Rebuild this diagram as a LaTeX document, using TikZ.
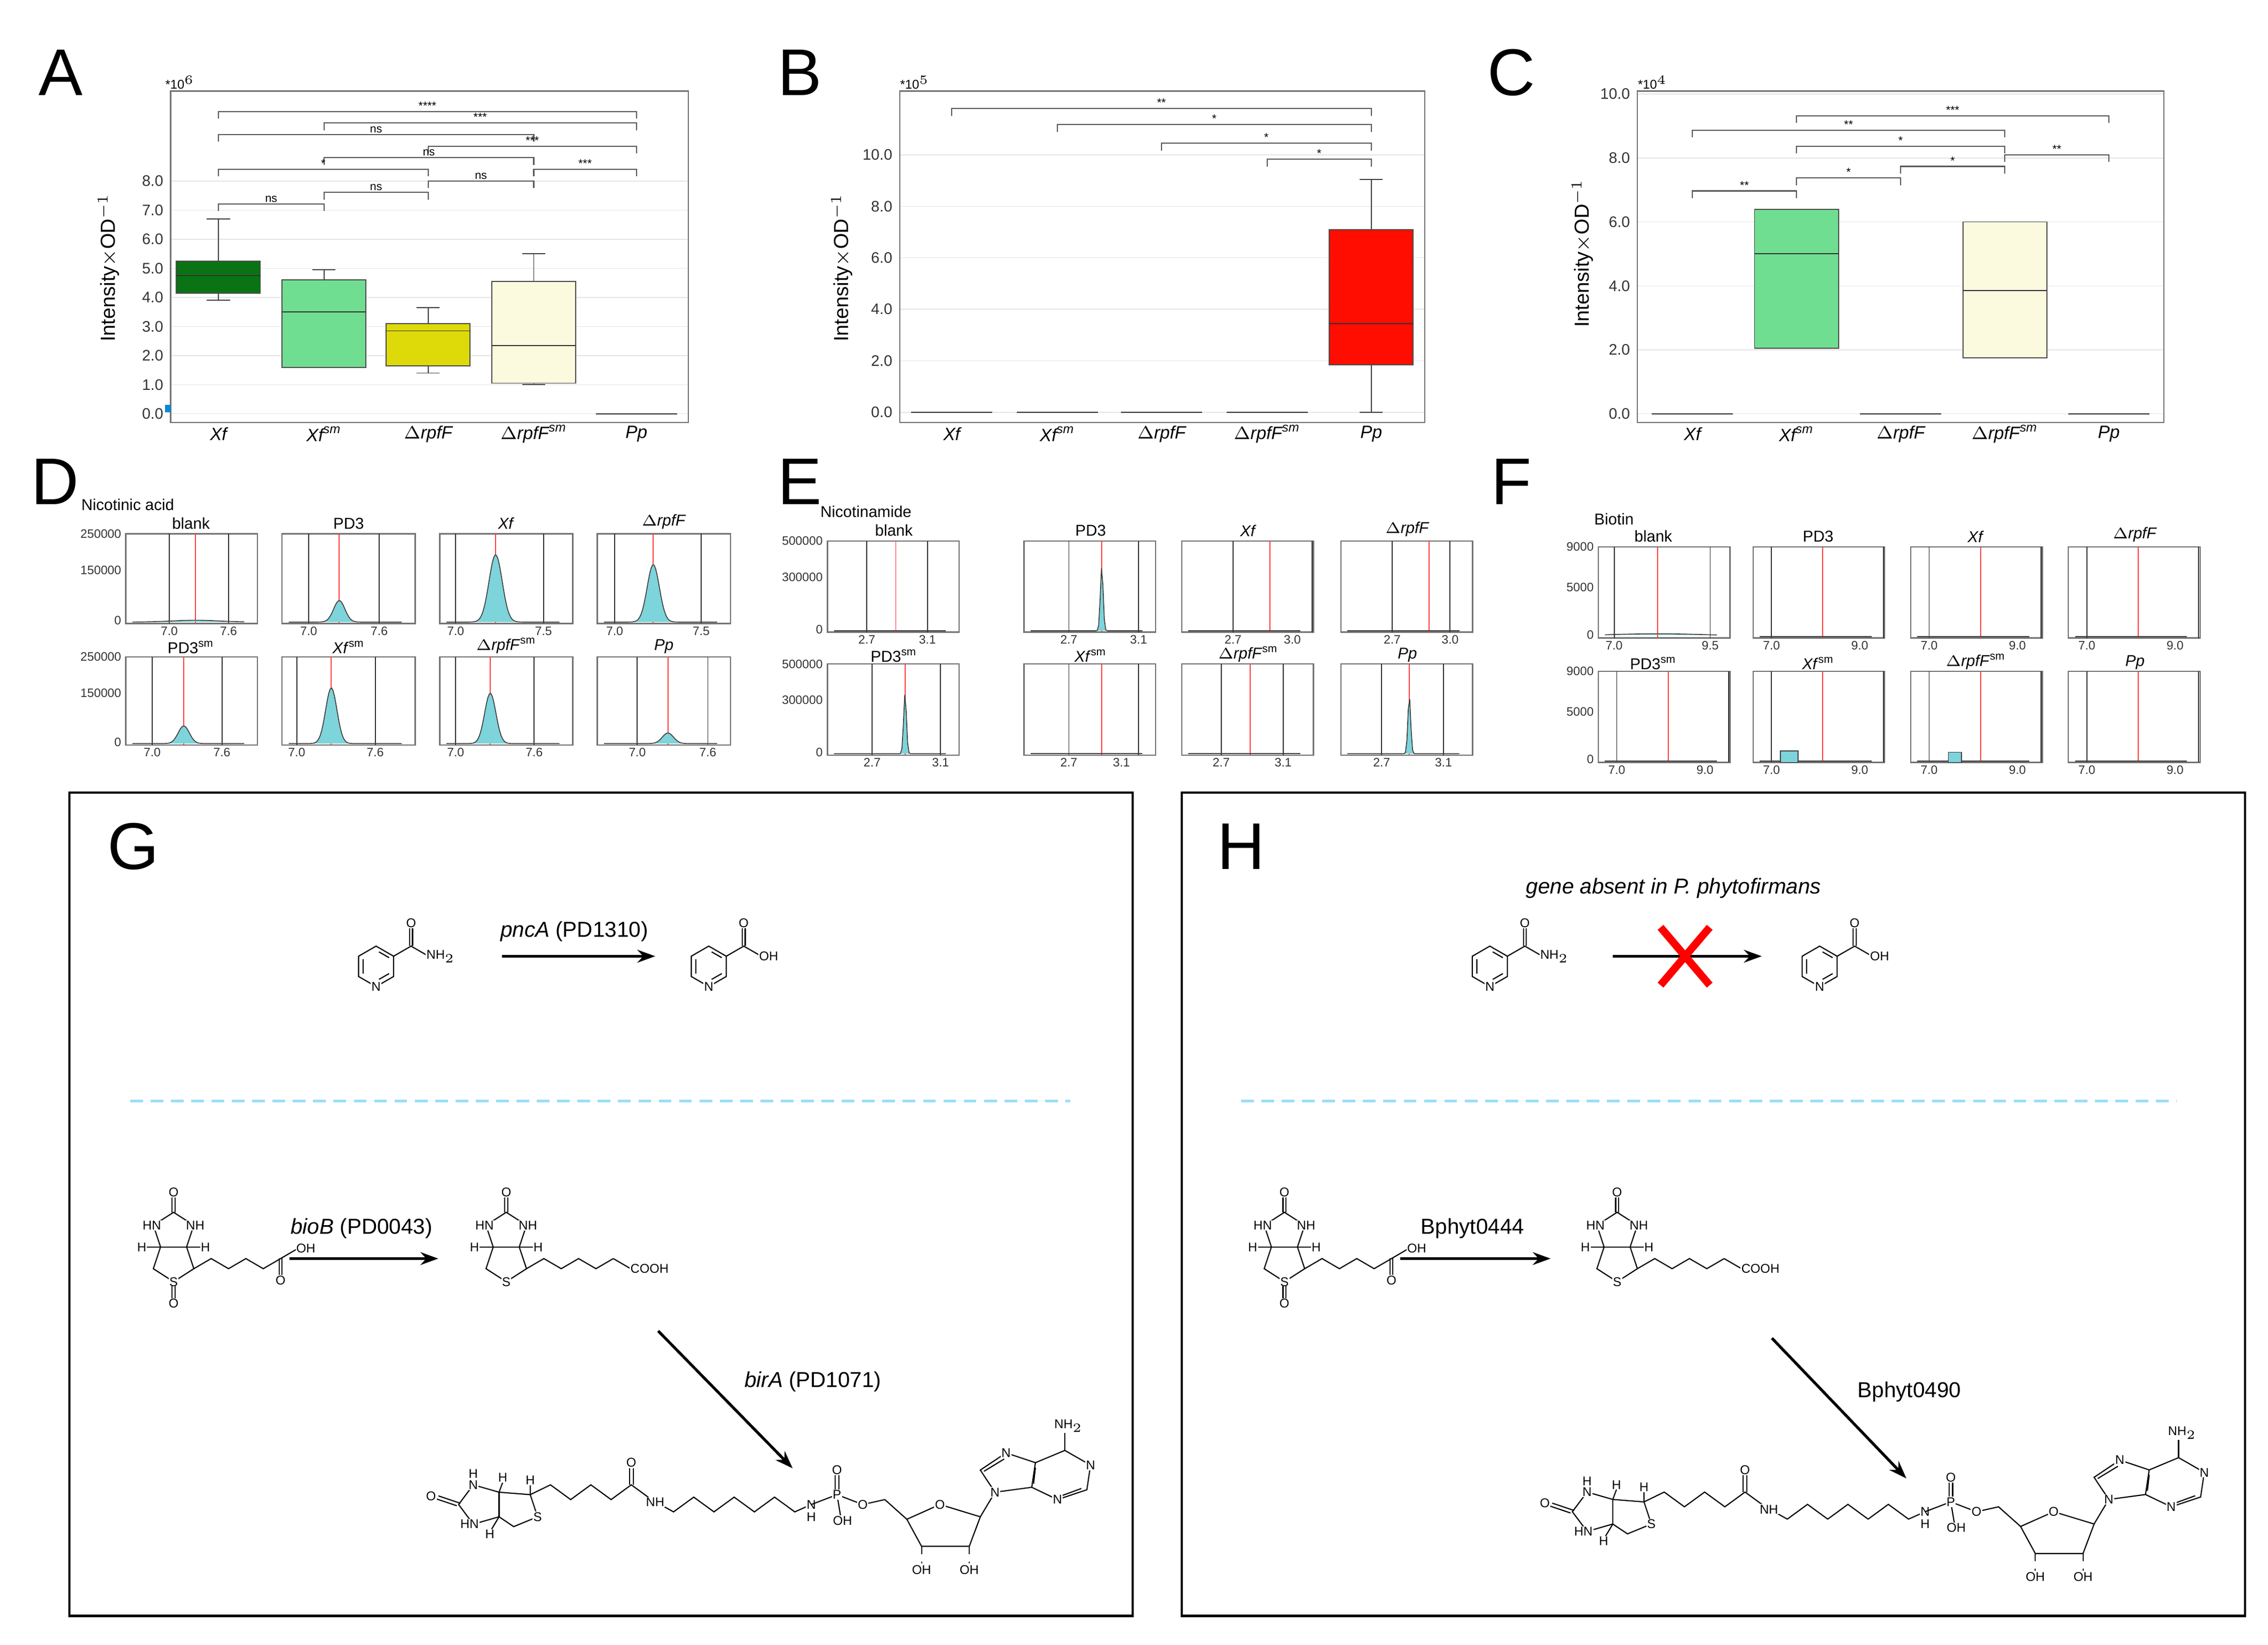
\documentclass[tikz,border=0pt]{standalone}
\usepackage{fontspec}
\setmainfont{Liberation Sans}
\usetikzlibrary{arrows.meta}
\definecolor{xsm}{RGB}{112,222,145}
\definecolor{pk}{RGB}{125,212,218}
\definecolor{dg}{RGB}{10,115,20}
\definecolor{yl}{RGB}{222,218,10}
\definecolor{ly}{RGB}{252,250,222}
\newcommand\fs[1]{\fontsize{#1}{#1}\selectfont}
\tikzset{
 frame/.style={draw=black!55,line width=0.5pt},
 grid/.style={draw=black!10,line width=0.3pt},
 tick/.style={font=\fs{6},anchor=east,text=black!80,inner sep=1pt},
 cat/.style={font=\fs{7}\itshape,inner sep=1pt},
 sig/.style={font=\fs{4.5},inner sep=0.5pt,anchor=south},
 brk/.style={draw=black!65,line width=0.45pt},
 ttl/.style={font=\fs{26},inner sep=0pt},
 subt/.style={font=\fs{6.2},inner sep=0.5pt,anchor=south},
 stk/.style={font=\fs{4.8},text=black!80,inner sep=0.5pt},
 rxn/.style={-{Stealth[length=7pt,width=5pt]},line width=1.1pt},
 bond/.style={line width=0.45pt},
 atom/.style={font=\fs{5},inner sep=0.3pt,fill=white},
 lab/.style={font=\fs{8.5},inner sep=1pt},
}
\newcommand\bxp[9]{%
 \draw[black!75] (#1,{#2-#3*#4})--(#1,{#2-#3*#5});
 \draw[black!75] (#1,{#2-#3*#7})--(#1,{#2-#3*#8});
 \draw[black!75] ({#1-8},{#2-#3*#4})--({#1+8},{#2-#3*#4});
 \draw[black!75] ({#1-8},{#2-#3*#8})--({#1+8},{#2-#3*#8});
 \filldraw[fill=#9,draw=black!70,line width=0.4pt] ({#1-29},{#2-#3*#5}) rectangle ({#1+29},{#2-#3*#7});
 \draw[black!80] ({#1-29},{#2-#3*#6})--({#1+29},{#2-#3*#6});}
\newcommand\brkt[4]{\draw[brk] (#1,{#3+5})--(#1,#3)--(#2,#3)--(#2,{#3+5}); \node[sig] at ({(#1+#2)/2},#3) {#4};}
\newcommand\spl[9]{%
 \draw[frame] (#1,#2) rectangle ({#1+#3},{#2+#4});
 \draw[black!80,line width=0.4pt] ({#1+#5*#3},#2)--({#1+#5*#3},{#2+#4});
 \draw[black!80,line width=0.4pt] ({#1+#6*#3},#2)--({#1+#6*#3},{#2+#4});
 \draw[red!75,line width=0.4pt] ({#1+#7*#3},#2)--({#1+#7*#3},{#2+#4});
 \filldraw[fill=pk,draw=black!75,line width=0.35pt] plot[domain=0.05:0.9,samples=80] ({#1+\x*#3},{#2+#4-1-#8*#4*exp(-((\x-#7)/#9)^2)});}
\newcommand\sptk[7]{\node[stk,anchor=north] at ({#1+#4*#3},{#2+1}) {#6}; \node[stk,anchor=north] at ({#1+#5*#3},{#2+1}) {#7};}
\newcommand\Xsm{\textit{Xf}\textsuperscript{sm}}
\newcommand\Rf{$\Delta$\textit{rpfF}}
\newcommand\Rsm{$\Delta$\textit{rpfF}\textsuperscript{sm}}
\newcommand\PDsm{PD3\textsuperscript{sm}}
\newcommand\pyr[1]{%
 \draw[bond] (0,-14)--(12.1,-7)--(12.1,7)--(0,14)--(-12.1,7)--(-12.1,-7)--cycle;
 \draw[bond] (2,-10)--(9,-6) (9,5)--(2,9) (-9,-5)--(-9,5);
 \draw[bond] (12.1,-7)--(24.2,-14)--(36.3,-7);
 \draw[bond] (23.2,-14)--(23.2,-27) (25.2,-14)--(25.2,-27);
 \node[atom] at (0,14) {N};
 \node[atom] at (24.2,-30) {O};
 \node[atom,anchor=west] at (34,-7) {#1};}
\newcommand\biot[1]{%
 \draw[bond] (-9,0)--(9,0);
 \draw[bond] (-9,0)--(-14,-15)--(0,-24)--(14,-15)--(9,0);
 \draw[bond] (-9,0)--(-14,15)--(0,24)--(14,15)--(9,0);
 \draw[bond] (-1,-24)--(-1,-35) (1,-24)--(1,-35);
 \draw[bond] (-9,0)--(-20,0) (9,0)--(20,0);
 \node[atom] at (0,-38) {O};
 \node[atom] at (-15,-15) {HN};
 \node[atom] at (15,-15) {NH};
 \node[atom] at (-22,0) {H};
 \node[atom] at (22,0) {H};
 \node[atom] at (0,24) {S};
 \draw[bond] (14,15)--(26,8)--(38,15)--(50,8)--(62,15)--(74,8);
 \ifnum#1=1
  \draw[bond] (-1,27)--(-1,36) (1,27)--(1,36);
  \node[atom] at (0,39) {O};
  \draw[bond] (74,8)--(86,1); \draw[bond] (73,8)--(73,20) (75,8)--(75,20);
  \node[atom] at (74,23) {O};
  \node[atom,anchor=west] at (84,1) {OH};
 \else
  \draw[bond] (74,8)--(86,15);
  \node[atom,anchor=west] at (85,15) {COOH};
 \fi}
\newcommand\conj{%
 \draw[bond] (0,-10)--(0,10);
 \draw[bond] (0,-10)--(-14,-16)--(-22,0)--(-14,16)--(0,10);
 \draw[bond] (-21,-1)--(-33,-7) (-23,1)--(-35,-5);
 \node[atom] at (-37,-7) {O};
 \node[atom] at (-14,-16) {N}; \node[atom] at (-14,-25) {H};
 \node[atom] at (-16,16) {HN};
 \draw[bond] (0,-10)--(17,-8)--(21,10)--(8,18)--(0,10);
 \node[atom] at (21,10) {S};
 \draw[bond] (0,-10)--(2,-18) (0,10)--(-4,20) (17,-8)--(17,-16);
 \node[atom] at (2,-22) {H}; \node[atom] at (-5,24) {H}; \node[atom] at (17,-20) {H};
 \draw[bond] (17,-8)--(28,-16)--(39,-4)--(50,-16)--(61,-4)--(72,-16)--(83,-4);
 \draw[bond] (71,-16)--(71,-30) (73,-16)--(73,-30);
 \node[atom] at (72,-34) {O};
 \draw[bond] (83,-4)--(95,6)--(106,-6)--(117,6)--(128,-6)--(139,6)--(150,-6)--(161,6)--(170,0);
 \node[atom] at (85,-2) {NH};
 \node[atom] at (170,0) {N}; \node[atom] at (170,10) {H};
 \draw[bond] (170,0)--(184,-8)--(198,0)--(210,-4)--(222,12);
 \draw[bond] (183,-8)--(183,-24) (185,-8)--(185,-24);
 \draw[bond] (184,-8)--(186,10);
 \node[atom] at (184,-8) {P}; \node[atom] at (184,-28) {O};
 \node[atom] at (187,13) {OH}; \node[atom] at (198,0) {O};
 \draw[bond] (222,12)--(240,0)--(262,10)--(256,34)--(230,34)--cycle;
 \node[atom] at (240,0) {O};
 \draw[bond,dashed] (230,34)--(230,48) (256,34)--(256,48);
 \node[atom] at (230,53) {OH}; \node[atom] at (256,53) {OH};
 \draw[bond] (262,10)--(270,-10);
 \draw[bond] (270,-10)--(262,-28)--(276,-42)--(292,-34)--(290,-14)--cycle;
 \draw[bond] (290,-14)--(304,-4)--(320,-12)--(322,-32)--(308,-44)--(292,-34);
 \draw[bond] (264,-27)--(275,-37) (292,-30)--(291,-17) (306,-7)--(317,-13);
 \draw[bond] (308,-44)--(308,-60);
 \node[atom] at (270,-10) {N}; \node[atom] at (276,-42) {N};
 \node[atom] at (304,-4) {N}; \node[atom] at (322,-32) {N};
 \node[atom] at (310,-64) {NH$_2$};}
\begin{document}
\begin{tikzpicture}[x=0.02cm,y=-0.02cm]
\fill[white] (0,0) rectangle (1568,1137);
\useasboundingbox (0,0) rectangle (1568,1137);
% ---------------- A
\node[ttl] (tA) at (42,50) {A};
\foreach \v in {0,...,8} {\draw[grid] (118,{286-20.1*\v})--(476,{286-20.1*\v});
  \node[tick] at (115,{286-20.1*\v}) {\v.0};}
\draw[frame] (118,63) rectangle (476,292);
\node[font=\fs{5},anchor=south west,inner sep=0pt] at (114,62) {*10$^6$};
\node[rotate=90,font=\fs{8}] at (75,185) {Intensity$\times$OD$^{-1}$};
\bxp{151}{286}{20.1}{3.9}{4.15}{4.75}{5.25}{6.7}{dg}
\bxp{224}{286}{20.1}{1.6}{1.6}{3.5}{4.6}{4.95}{xsm}
\bxp{296}{286}{20.1}{1.4}{1.65}{2.85}{3.1}{3.65}{yl}
\bxp{369}{286}{20.1}{1.0}{1.05}{2.35}{4.55}{5.5}{ly}
\draw[black!80] (412,286)--(468,286);
\fill[cyan!70!blue] (114,280) rectangle (118,285);
\foreach \x/\t in {151/\textit{Xf},224/\Xsm,296/\Rf,369/\Rsm,440/\textit{Pp}} \node[cat] at (\x,300) {\t};
\brkt{151}{440}{77}{****}
\brkt{224}{440}{85}{***}
\brkt{151}{369}{93}{ns}
\brkt{296}{440}{101}{***}
\brkt{224}{369}{109}{ns}
\brkt{151}{296}{117}{*}
\brkt{369}{440}{117}{***}
\brkt{296}{369}{125}{ns}
\brkt{224}{296}{133}{ns}
\brkt{151}{224}{141}{ns}
% ---------------- B
\node[ttl] (tB) at (553,50) {B};
\foreach \v in {0,2,4,6,8,10} {\draw[grid] (622,{285-17.8*\v})--(985,{285-17.8*\v});
  \node[tick] at (619,{285-17.8*\v}) {\v.0};}
\draw[frame] (622,63) rectangle (985,292);
\node[font=\fs{5},anchor=south west,inner sep=0pt] at (622,62) {*10$^5$};
\node[rotate=90,font=\fs{8}] at (582,185) {Intensity$\times$OD$^{-1}$};
\bxp{948}{285}{17.8}{0}{1.85}{3.45}{7.1}{9.05}{red!90!orange}
\foreach \x in {658,731,803,876} \draw[black!80] ({\x-28},285)--({\x+28},285);
\foreach \x/\t in {658/\textit{Xf},731/\Xsm,803/\Rf,876/\Rsm,948/\textit{Pp}} \node[cat] at (\x,300) {\t};
\brkt{658}{948}{75}{**}
\brkt{731}{948}{86}{*}
\brkt{803}{948}{99}{*}
\brkt{876}{948}{110}{*}
% ---------------- C
\node[ttl] (tC) at (1045,50) {C};
\foreach \v in {0,2,4,6,8,10} {\draw[grid] (1132,{286-22.1*\v})--(1496,{286-22.1*\v});
  \node[tick] at (1129,{286-22.1*\v}) {\v.0};}
\draw[frame] (1132,63) rectangle (1496,292);
\node[font=\fs{5},anchor=south west,inner sep=0pt] at (1132,62) {*10$^4$};
\node[rotate=90,font=\fs{8}] at (1094,175) {Intensity$\times$OD$^{-1}$};
\bxp{1242}{286}{22.1}{2.05}{2.05}{5.0}{6.4}{6.4}{xsm}
\bxp{1386}{286}{22.1}{1.75}{1.75}{3.85}{6.0}{6.0}{ly}
\foreach \x in {1170,1314,1458} \draw[black!80] ({\x-28},286)--({\x+28},286);
\foreach \x/\t in {1170/\textit{Xf},1242/\Xsm,1314/\Rf,1386/\Rsm,1458/\textit{Pp}} \node[cat] at (\x,300) {\t};
\brkt{1242}{1458}{80}{***}
\brkt{1170}{1386}{90}{**}
\brkt{1242}{1386}{101}{*}
\brkt{1386}{1458}{107}{**}
\brkt{1314}{1386}{115}{*}
\brkt{1242}{1314}{123}{*}
\brkt{1170}{1242}{132}{**}
% ---------------- D
\node[ttl] (tD) at (38,333) {D};
\node[font=\fs{6.2},anchor=south west,inner sep=0.5pt] at (55,354) {Nicotinic acid};
\spl{87}{369}{91}{62}{.33}{.78}{.53}{.02}{.25}
\spl{195}{369}{92}{62}{.2}{.73}{.43}{.24}{.06}
\spl{304}{369}{92}{62}{.12}{.78}{.42}{.75}{.07}
\spl{413}{369}{92}{62}{.13}{.78}{.42}{.64}{.065}
\spl{87}{454}{91}{61}{.2}{.73}{.44}{.2}{.06}
\spl{195}{454}{92}{61}{.11}{.7}{.37}{.63}{.06}
\spl{304}{454}{92}{61}{.12}{.71}{.38}{.57}{.06}
\spl{413}{454}{92}{61}{.3}{.83}{.53}{.12}{.06}
\sptk{87}{431}{91}{.33}{.78}{7.0}{7.6}\sptk{195}{431}{92}{.2}{.73}{7.0}{7.6}
\sptk{304}{431}{92}{.12}{.78}{7.0}{7.5}\sptk{413}{431}{92}{.13}{.78}{7.0}{7.5}
\sptk{87}{515}{91}{.2}{.73}{7.0}{7.6}\sptk{195}{515}{92}{.11}{.7}{7.0}{7.6}
\sptk{304}{515}{92}{.12}{.71}{7.0}{7.6}\sptk{413}{515}{92}{.3}{.83}{7.0}{7.6}
\foreach \x/\t in {132/blank,241/PD3,350/\textit{Xf},459/\Rf} \node[subt] at (\x,367) {\t};
\foreach \x/\t in {132/\PDsm,241/\Xsm,350/\Rsm,459/\textit{Pp}} \node[subt] at (\x,453) {\t};
\foreach \y/\t in {369/250000,394/150000,429/0,454/250000,479/150000,513/0} \node[stk,anchor=east] at (85,\y) {\t};
% ---------------- E
\node[ttl] (tE) at (553,333) {E};
\node[font=\fs{6.2},anchor=south west,inner sep=0.5pt] at (566,359) {Nicotinamide};
\spl{572}{374}{91}{63}{.3}{.76}{.52}{0}{.02}
\spl{708}{374}{91}{63}{.34}{.87}{.59}{.7}{.015}
\spl{817}{374}{91}{63}{.39}{.99}{.67}{0}{.02}
\spl{927}{374}{91}{63}{.39}{.83}{.67}{0}{.02}
\spl{572}{459}{91}{63}{.34}{.86}{.59}{.66}{.015}
\spl{708}{459}{91}{63}{.34}{.87}{.59}{0}{.02}
\spl{817}{459}{91}{63}{.3}{.77}{.52}{0}{.02}
\spl{927}{459}{91}{63}{.31}{.78}{.52}{.63}{.015}
\sptk{572}{437}{91}{.3}{.76}{2.7}{3.1}\sptk{708}{437}{91}{.34}{.87}{2.7}{3.1}
\sptk{817}{437}{91}{.39}{.84}{2.7}{3.0}\sptk{927}{437}{91}{.39}{.83}{2.7}{3.0}
\sptk{572}{522}{91}{.34}{.86}{2.7}{3.1}\sptk{708}{522}{91}{.34}{.74}{2.7}{3.1}
\sptk{817}{522}{91}{.3}{.77}{2.7}{3.1}\sptk{927}{522}{91}{.31}{.78}{2.7}{3.1}
\foreach \x/\t in {618/blank,754/PD3,863/\textit{Xf},973/\Rf} \node[subt] at (\x,372) {\t};
\foreach \x/\t in {618/\PDsm,754/\Xsm,863/\Rsm,973/\textit{Pp}} \node[subt] at (\x,459) {\t};
\foreach \y/\t in {374/500000,399/300000,435/0,459/500000,484/300000,520/0} \node[stk,anchor=east] at (570,\y) {\t};
% ---------------- F
\node[ttl] (tF) at (1045,333) {F};
\node[font=\fs{6.2},anchor=south west,inner sep=0.5pt] at (1101,364) {Biotin};
\spl{1105}{378}{91}{63}{.12}{.85}{.45}{.03}{.6}
\spl{1212}{378}{91}{63}{.14}{.99}{.53}{0}{.02}
\spl{1321}{378}{91}{63}{.14}{.99}{.53}{0}{.02}
\spl{1430}{378}{91}{63}{.14}{.99}{.53}{0}{.02}
\spl{1105}{464}{91}{63}{.14}{.99}{.53}{0}{.02}
\spl{1212}{464}{91}{63}{.14}{.99}{.53}{0}{.02}
\spl{1321}{464}{91}{63}{.14}{.99}{.53}{0}{.02}
\spl{1430}{464}{91}{63}{.14}{.99}{.53}{0}{.02}
\filldraw[fill=pk,draw=black!75,line width=0.35pt] (1231,527) rectangle (1243,519);
\filldraw[fill=pk,draw=black!75,line width=0.35pt] (1347,527) rectangle (1356,520);
\foreach \x in {1212,1321,1430} {\sptk{\x}{441}{91}{.14}{.81}{7.0}{9.0}}
\foreach \x in {1105,1212,1321,1430} {\sptk{\x}{527}{91}{.14}{.81}{7.0}{9.0}}
\sptk{1105}{441}{91}{.12}{.85}{7.0}{9.5}
\foreach \x/\t in {1143/blank,1257/PD3,1366/\textit{Xf},1476/\Rf} \node[subt] at (\x,376) {\t};
\foreach \x/\t in {1143/\PDsm,1257/\Xsm,1366/\Rsm,1476/\textit{Pp}} \node[subt] at (\x,464) {\t};
\foreach \y/\t in {378/9000,406/5000,439/0,464/9000,492/5000,525/0} \node[stk,anchor=east] at (1103,\y) {\t};
% ---------------- G
\draw[line width=0.9pt] (48,548) rectangle (783,1117);
\node[ttl] (tG) at (92,585) {G};
\draw[cyan!40,line width=1pt,dash pattern=on 5pt off 3pt] (90,761)--(740,761);
\begin{scope}[shift={(260,668)}]\pyr{NH$_2$}\end{scope}
\begin{scope}[shift={(490,668)}]\pyr{OH}\end{scope}
\coordinate (g1a) at (347,661); \coordinate (g1b) at (453,661);
\draw[rxn] (g1a)--(g1b);
\node[lab] (gl1) at (397,644) {\textit{pncA} (PD1310)};
\begin{scope}[shift={(120,862)}]\biot{1}\end{scope}
\begin{scope}[shift={(350,862)}]\biot{0}\end{scope}
\coordinate (g2a) at (200,870); \coordinate (g2b) at (303,870);
\draw[rxn] (g2a)--(g2b);
\node[lab] (gl2) at (250,849) {\textit{bioB} (PD0043)};
\coordinate (g3a) at (455,920); \coordinate (g3b) at (548,1015);
\draw[rxn] (g3a)--(g3b);
\node[lab] (gl3) at (562,955) {\textit{birA} (PD1071)};
\begin{scope}[shift={(345,1040)},xscale=1.27,yscale=0.85]\conj\end{scope}
% ---------------- H
\draw[line width=0.9pt] (817,548) rectangle (1552,1117);
\node[ttl] (tH) at (858,585) {H};
\draw[cyan!40,line width=1pt,dash pattern=on 5pt off 3pt] (858,761)--(1505,761);
\node[lab,font=\fs{8.5}\itshape] (hn) at (1157,614) {gene absent in P. phytofirmans};
\begin{scope}[shift={(1030,668)}]\pyr{NH$_2$}\end{scope}
\begin{scope}[shift={(1258,668)}]\pyr{OH}\end{scope}
\coordinate (h1a) at (1115,661); \coordinate (h1b) at (1218,661);
\draw[rxn] (h1a)--(h1b);
\draw[red,line width=3pt] (1148,641)--(1182,681) (1182,641)--(1148,681);
\begin{scope}[shift={(888,862)}]\biot{1}\end{scope}
\begin{scope}[shift={(1118,862)}]\biot{0}\end{scope}
\coordinate (h2a) at (968,870); \coordinate (h2b) at (1072,870);
\draw[rxn] (h2a)--(h2b);
\node[lab] (hl2) at (1018,849) {Bphyt0444};
\coordinate (h3a) at (1225,925); \coordinate (h3b) at (1318,1022);
\draw[rxn] (h3a)--(h3b);
\node[lab] (hl3) at (1320,962) {Bphyt0490};
\begin{scope}[shift={(1115,1045)},xscale=1.27,yscale=0.85]\conj\end{scope}
\end{tikzpicture}
\end{document}
